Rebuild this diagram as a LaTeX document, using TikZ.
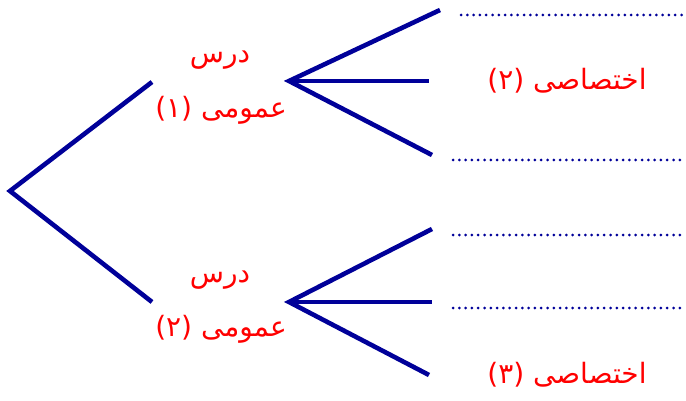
\documentclass[tikz,border=0pt]{standalone}
\usepackage{fontspec}
\TeXXeTstate=1
\newfontfamily\arabicfont[Script=Arabic]{DejaVu Sans}
\definecolor{navy}{RGB}{0,0,153}
\begin{document}
\begin{tikzpicture}[x=1pt,y=-1pt,
  branch/.style={draw=navy,line width=4.6pt,line join=miter},
  blank/.style={draw=navy,line width=3pt,line cap=round,dash pattern=on 0pt off 6.3pt},
  lbl/.style={text=red,font=\arabicfont\fontsize{28}{32}\selectfont,inner sep=0pt,anchor=center}]
\useasboundingbox (0,0) rectangle (686,401);
% root branches
\coordinate (root) at (10,191);
\coordinate (u) at (152,82);
\coordinate (d) at (152,302);
\draw[branch] (u) -- (root) -- (d);
% upper fan
\coordinate (ua) at (289,81);
\coordinate (u1) at (440,10);
\coordinate (u2) at (429,81);
\coordinate (u3) at (432,155);
\draw[branch] (u1) -- (ua) -- (u3);
\draw[branch] (ua) -- (u2);
% lower fan
\coordinate (da) at (289,302);
\coordinate (d1) at (432,229);
\coordinate (d2) at (432,302);
\coordinate (d3) at (429,375);
\draw[branch] (d1) -- (da) -- (d3);
\draw[branch] (da) -- (d2);
% blanks
\coordinate (b1s) at (461,15);  \coordinate (b1e) at (682,15);
\coordinate (b2s) at (453,160); \coordinate (b2e) at (682,160);
\coordinate (b3s) at (453,235); \coordinate (b3e) at (682,235);
\coordinate (b4s) at (453,308); \coordinate (b4e) at (682,308);
\draw[blank] (b1s) -- (b1e);
\draw[blank] (b2s) -- (b2e);
\draw[blank] (b3s) -- (b3e);
\draw[blank] (b4s) -- (b4e);
% labels
\node[lbl] (t1) at (220,60) {\beginR درس\endR};
\node[lbl] (t2) at (221,110) {\beginR عمومی (۱)\endR};
\node[lbl] (t3) at (220,280) {\beginR درس\endR};
\node[lbl] (t4) at (221,329) {\beginR عمومی (۲)\endR};
\node[lbl] (t5) at (567,81) {\beginR اختصاصی (۲)\endR};
\node[lbl] (t6) at (567,375) {\beginR اختصاصی (۳)\endR};
\end{tikzpicture}
\end{document}
